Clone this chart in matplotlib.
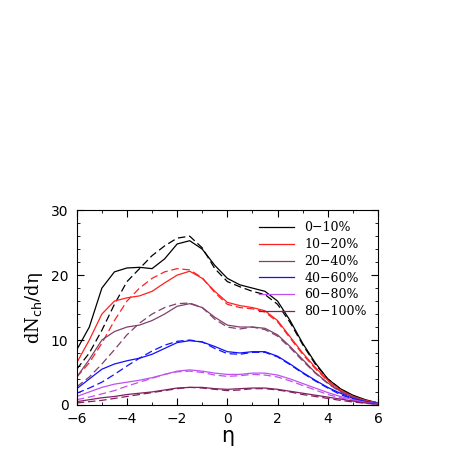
import numpy as np
import matplotlib
matplotlib.use('Agg')
import matplotlib.pyplot as plt
from matplotlib.ticker import MultipleLocator

eta = np.arange(-6, 6.01, 0.5)
LABELS = ['0\u221210%', '10\u221220%', '20\u221240%', '40\u221260%', '60\u221280%', '80\u2212100%']
COLORS = ['#000000', '#ff2020', '#80406a', '#1010ff', '#c050f0', '#802060']

solid_0 = [8.5,12,18.0,20.5,21.1,21.2,21,22.5,24.8,25.3,24,21.5,19.5,18.5,18,17.5,16,13,9.5,6.5,4,2.5,1.5,0.8,0.3]
dash_0 = [5.5,8,11.5,15.5,19,21,23,24.5,25.7,26.0,24.2,21,19,18.2,17.5,17,15.5,12.7,9.3,6.3,4,2.5,1.3,0.7,0.3]
solid_10 = [6.5,10,14,16,16.5,16.8,17.5,18.8,20,20.6,19.5,17.5,15.8,15.3,15,14.5,13,10.5,8,5.8,3.8,2.3,1.3,0.7,0.3]
dash_10 = [4.3,6.5,9.5,13,16,18,19.5,20.5,21,20.8,19.6,17.3,15.5,15,14.8,14.3,12.8,10.3,7.8,5.6,3.7,2.2,1.2,0.6,0.25]
solid_20 = [4.3,7,10,11.3,12,12.3,13,14,15.2,15.6,15,13.5,12.3,12,12,11.8,10.8,9,7,5,3.4,2.1,1.2,0.6,0.25]
dash_20 = [2.8,4.3,6.3,8.5,10.8,12.6,14,15,15.6,15.7,15,13.2,12,11.7,12,11.6,10.6,8.8,6.8,4.9,3.3,2,1.1,0.55,0.2]
solid_40 = [2.5,4,5.5,6.3,6.8,7.2,7.8,8.7,9.6,9.9,9.7,9,8.2,8,8.2,8.2,7.5,6.3,5,3.8,2.7,1.8,1.0,0.5,0.2]
dash_40 = [1.8,2.6,3.5,4.7,6,7.2,8.3,9.2,9.8,10,9.7,8.7,7.9,7.8,8.1,8.1,7.4,6.2,4.9,3.7,2.6,1.6,0.9,0.45,0.2]
solid_60 = [1.3,2,2.7,3.2,3.5,3.8,4.2,4.7,5.2,5.4,5.2,4.9,4.7,4.7,4.9,4.9,4.6,4,3.3,2.6,1.9,1.3,0.8,0.4,0.15]
dash_60 = [0.8,1.2,1.7,2.2,2.9,3.5,4.1,4.7,5.1,5.2,5,4.6,4.4,4.5,4.7,4.6,4.3,3.7,3,2.3,1.6,1.1,0.65,0.35,0.12]
solid_80 = [0.5,0.8,1.1,1.3,1.6,1.8,2,2.3,2.6,2.7,2.7,2.5,2.4,2.5,2.6,2.6,2.4,2.1,1.8,1.5,1.2,0.9,0.6,0.3,0.1]
dash_80 = [0.3,0.5,0.7,1,1.3,1.6,1.9,2.2,2.5,2.7,2.6,2.4,2.2,2.3,2.5,2.5,2.3,2.0,1.6,1.3,1.0,0.7,0.45,0.25,0.08]

SOLID = [solid_0, solid_10, solid_20, solid_40, solid_60, solid_80]
DASHED = [dash_0, dash_10, dash_20, dash_40, dash_60, dash_80]

fig = plt.figure(figsize=(4.57, 4.57), dpi=100)
ax = fig.add_axes([0.168, 0.114, 0.659, 0.426])
for s, d, c, lab in zip(SOLID, DASHED, COLORS, LABELS):
    ax.plot(eta, s, color=c, lw=0.9, label=lab)
    ax.plot(eta, d, color=c, lw=0.9, ls=(0, (6, 3)))
ax.set_xlim(-6, 6); ax.set_ylim(0, 30)
ax.xaxis.set_major_locator(MultipleLocator(2)); ax.xaxis.set_minor_locator(MultipleLocator(1))
ax.yaxis.set_major_locator(MultipleLocator(10)); ax.yaxis.set_minor_locator(MultipleLocator(2))
ax.tick_params(which='both', direction='in', top=True, right=True, labelsize=10)
ax.tick_params(which='major', length=5); ax.tick_params(which='minor', length=2.5)
ax.tick_params(axis='x', pad=5); ax.tick_params(axis='y', pad=6)
ax.set_xlabel('\u03b7', fontsize=15, labelpad=0)
ax.set_ylabel('dN$_{\\rm ch}$/d\u03b7', fontsize=13, family='serif')
ax.legend(loc='upper right', frameon=False, handlelength=2.8, labelspacing=0.3,
          prop={'family': 'serif', 'size': 9})
plt.savefig('out.png')
